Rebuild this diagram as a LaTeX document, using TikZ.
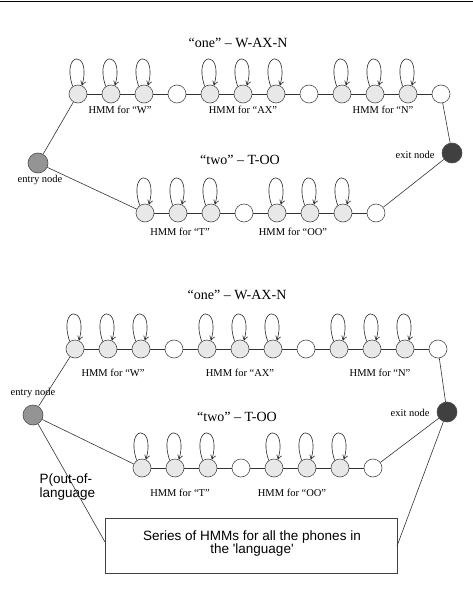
\documentclass[tikz,border=0pt]{standalone}
\usepackage{fontspec}
\setmainfont{Liberation Serif}
\newfontfamily\sansf{Liberation Sans}
\usetikzlibrary{arrows.meta}
\begin{document}
\begin{tikzpicture}[x=1pt,y=-1pt,
  st/.style={circle,draw=black!70,fill=black!9,minimum size=18pt,inner sep=0pt,line width=0.6pt},
  wt/.style={st,fill=white},
  entrynd/.style={circle,draw=black!70,fill=black!42,minimum size=20pt,inner sep=0pt,line width=0.6pt},
  exitnd/.style={entrynd,fill=black!75},
  conn/.style={draw=black!80,line width=0.6pt},
  selfloop/.style={draw=black!85,line width=0.6pt,-{Straight Barb[length=4pt,width=5pt]}},
  ttl/.style={font=\fontsize{14}{16}\selectfont},
  lbl/.style={font=\fontsize{10.5}{12}\selectfont},
  sans/.style={font=\sansf\fontsize{13.5}{13.5}\selectfont}
]
\useasboundingbox (0,0) rectangle (473,615);
\coordinate (rl) at (0,1.5);
\coordinate (rr) at (473,1.5);
\draw[line width=1.2pt] (rl) -- (rr);

% ---------- Panel 1 ----------
\node[ttl] (p1one) at (238,43) {“one” – W-AX-N};
\foreach \i/\s in {0/st,1/st,2/st,3/wt,4/st,5/st,6/st,7/wt,8/st,9/st,10/st,11/wt}
  \node[\s] (p1t\i) at ({78+33*\i},94) {};
\foreach \i [evaluate=\i as \j using int(\i+1)] in {0,...,10}
  \draw[conn] (p1t\i) -- (p1t\j);
\foreach \i in {0,1,2,4,5,6,8,9,10}
  \draw[selfloop] (p1t\i.125) .. controls +(-12,-36) and +(10,-36) .. (p1t\i.65);
\node[lbl] (p1lw) at (120,110) {HMM for “W”};
\node[lbl] (p1lax) at (243,110) {HMM for “AX”};
\node[lbl] (p1ln) at (383,110) {HMM for “N”};

\node[ttl] (p1two) at (240,160) {“two” – T-OO};
\foreach \i/\s in {0/st,1/st,2/st,3/wt,4/st,5/st,6/st,7/wt}
  \node[\s] (p1b\i) at ({145+33*\i},213) {};
\foreach \i [evaluate=\i as \j using int(\i+1)] in {0,...,6}
  \draw[conn] (p1b\i) -- (p1b\j);
\foreach \i in {0,1,2,4,5,6}
  \draw[selfloop] (p1b\i.125) .. controls +(-12,-36) and +(10,-36) .. (p1b\i.65);
\node[lbl] (p1lt) at (180,232) {HMM for “T”};
\node[lbl] (p1loo) at (293,232) {HMM for “OO”};

\node[entrynd] (p1entry) at (38,163) {};
\node[exitnd] (p1exit) at (452,153) {};
\node[lbl] (p1entrylbl) at (40,180) {entry node};
\node[lbl,anchor=east] (p1exitlbl) at (438,155) {exit node};
\draw[conn] (p1entry) -- (p1t0);
\draw[conn] (p1entry) -- (p1b0);
\draw[conn] (p1t11) -- (p1exit);
\draw[conn] (p1b7) -- (p1exit);

% ---------- Panel 2 ----------
\node[ttl] (p2one) at (237,295) {“one” – W-AX-N};
\foreach \i/\s in {0/st,1/st,2/st,3/wt,4/st,5/st,6/st,7/wt,8/st,9/st,10/st,11/wt}
  \node[\s] (p2t\i) at ({75+33*\i},349) {};
\foreach \i [evaluate=\i as \j using int(\i+1)] in {0,...,10}
  \draw[conn] (p2t\i) -- (p2t\j);
\foreach \i in {0,1,2,4,5,6,8,9,10}
  \draw[selfloop] (p2t\i.125) .. controls +(-12,-36) and +(10,-36) .. (p2t\i.65);
\node[lbl] (p2lw) at (113,373) {HMM for “W”};
\node[lbl] (p2lax) at (240,373) {HMM for “AX”};
\node[lbl] (p2ln) at (380,373) {HMM for “N”};

\node[ttl] (p2two) at (237,417) {“two” – T-OO};
\foreach \i/\s in {0/st,1/st,2/st,3/wt,4/st,5/st,6/st,7/wt}
  \node[\s] (p2b\i) at ({142+33*\i},468) {};
\foreach \i [evaluate=\i as \j using int(\i+1)] in {0,...,6}
  \draw[conn] (p2b\i) -- (p2b\j);
\foreach \i in {0,1,2,4,5,6}
  \draw[selfloop] (p2b\i.125) .. controls +(-12,-36) and +(10,-36) .. (p2b\i.65);
\node[lbl] (p2lt) at (180,493) {HMM for “T”};
\node[lbl] (p2loo) at (292,493) {HMM for “OO”};

\node[entrynd] (p2entry) at (33,415) {};
\node[exitnd] (p2exit) at (447,412) {};
\node[lbl] (p2entrylbl) at (33,393) {entry node};
\node[lbl,anchor=east] (p2exitlbl) at (433,413) {exit node};
\draw[conn] (p2entry) -- (p2t0);
\draw[conn] (p2entry) -- (p2b0);
\draw[conn] (p2t11) -- (p2exit);
\draw[conn] (p2b7) -- (p2exit);

\node[sans,anchor=west,align=left] (pout) at (36,487) {P(out-of-\\language};

\node[draw=black!75,line width=0.6pt,minimum width=292pt,minimum height=55pt,inner sep=0pt] (box) at (251,545.5) {};
\node[sans,align=center] (boxtxt) at (252,543.5) {Series of HMMs for all the phones in\\the \textquotesingle language\textquotesingle};
\coordinate (bl) at (105,542);
\coordinate (br) at (397,546);
\draw[conn] (p2entry) -- (bl);
\draw[conn] (p2exit) -- (br);
\end{tikzpicture}
\end{document}
